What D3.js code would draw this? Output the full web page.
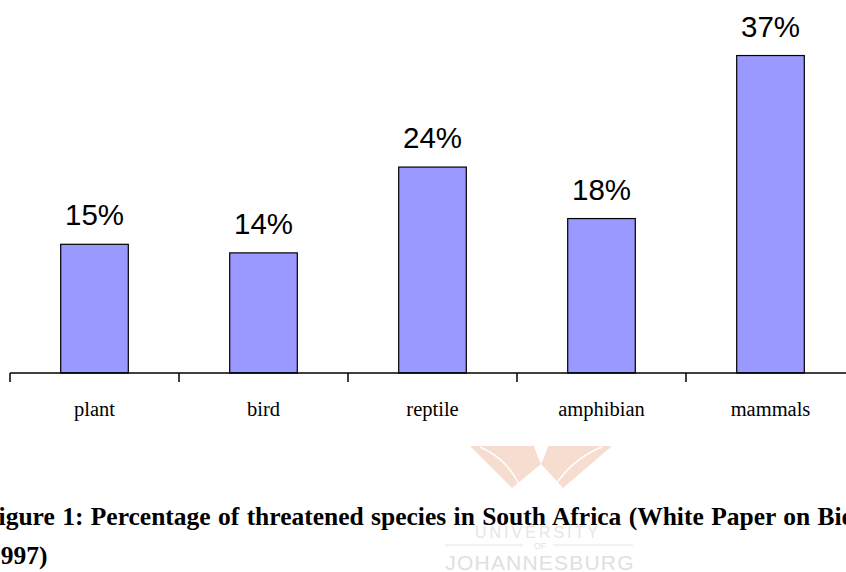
<!DOCTYPE html>
<html>
<head>
<meta charset="utf-8">
<script src="https://cdn.jsdelivr.net/npm/d3@7"></script>
<style>
  html, body { margin: 0; padding: 0; background: #fff; overflow: hidden; }
  svg { display: block; }
</style>
</head>
<body>
<script>
// Threatened species by group (percent)
const categories = ["plant", "bird", "reptile", "amphibian", "mammals"];
const values = [15, 14, 24, 18, 37];
const valueLabels = ["15%", "14%", "24%", "18%", "37%"];
const captionLines = [
  "Figure 1: Percentage of threatened species in South Africa (White Paper on Biodiversity,",
  "1997)"
];

const W = 846, H = 572;
const svg = d3.select("body").append("svg").attr("width", W).attr("height", H);

// University watermark (faint, behind the caption)
const wm = svg.append("g").attr("class", "watermark");
wm.append("path")
  .attr("d", "M470,446 L534,446 Q537,456 541,464 L512,488 Z M548,446 L612,446 L563,488 L541,464 Q545,456 548,446 Z")
  .attr("fill", "#f7ddcf");
wm.append("path")
  .attr("d", "M480,447 Q506,458 519,484 M602,447 Q574,458 556,484")
  .attr("fill", "none").attr("stroke", "#fff").attr("stroke-width", 1.5);
wm.append("text").attr("x", 538).attr("y", 538).attr("text-anchor", "middle")
  .attr("font-family", "Liberation Sans, Arial, sans-serif").attr("font-size", 16)
  .attr("letter-spacing", 3).attr("fill", "#e6e6e6").text("UNIVERSITY");
wm.append("text").attr("x", 540).attr("y", 549).attr("text-anchor", "middle")
  .attr("font-family", "Liberation Sans, Arial, sans-serif").attr("font-size", 9)
  .attr("fill", "#e2e2e2").text("OF");
wm.append("line").attr("x1", 445).attr("x2", 523).attr("y1", 545).attr("y2", 545)
  .attr("stroke", "#e6e6e6").attr("stroke-width", 1);
wm.append("line").attr("x1", 553).attr("x2", 633).attr("y1", 545).attr("y2", 545)
  .attr("stroke", "#e6e6e6").attr("stroke-width", 1);
wm.append("text").attr("x", 540).attr("y", 570).attr("text-anchor", "middle")
  .attr("font-family", "Liberation Sans, Arial, sans-serif").attr("font-size", 21)
  .attr("letter-spacing", 1.2)
  .attr("fill", "#e0e0e0").text("JOHANNESBURG");

// Scales
const axisY = 373;
const step = 169;
const x0 = 10;
const xBand = d3.scaleBand().domain(categories).range([x0, x0 + step * categories.length]).padding(0);
const xBar = d3.scaleBand().domain(categories).range([x0, x0 + step * categories.length])
  .paddingInner(0.6).paddingOuter(0.3);
const y = d3.scaleLinear().domain([0, 40]).range([axisY, axisY - 343.2]);

// Bars
svg.append("g").selectAll("rect").data(categories).join("rect")
  .attr("x", d => xBar(d))
  .attr("y", (d, i) => y(values[i]))
  .attr("width", xBar.bandwidth())
  .attr("height", (d, i) => y(0) - y(values[i]))
  .attr("fill", "#9999ff")
  .attr("stroke", "#000")
  .attr("stroke-width", 1.2);

// Value labels
svg.append("g").selectAll("text").data(categories).join("text")
  .attr("x", d => xBar(d) + xBar.bandwidth() / 2)
  .attr("y", (d, i) => y(values[i]) - 19)
  .attr("text-anchor", "middle")
  .attr("font-family", "Liberation Sans, Arial, sans-serif")
  .attr("font-size", 29.5)
  .attr("fill", "#000")
  .text((d, i) => valueLabels[i]);

// Category axis with ticks at band boundaries
const axis = svg.append("g");
axis.append("line")
  .attr("x1", x0).attr("x2", W + 10)
  .attr("y1", axisY).attr("y2", axisY)
  .attr("stroke", "#000").attr("stroke-width", 1.5);
const tickXs = categories.map(c => xBand(c)).concat([xBand.range()[1]]);
axis.selectAll(".tick").data(tickXs).join("line")
  .attr("x1", d => d).attr("x2", d => d)
  .attr("y1", axisY).attr("y2", axisY + 9)
  .attr("stroke", "#000").attr("stroke-width", 1.5);
axis.selectAll(".cat").data(categories).join("text")
  .attr("x", d => xBand(d) + xBand.bandwidth() / 2)
  .attr("y", 416)
  .attr("text-anchor", "middle")
  .attr("font-family", "Liberation Serif, 'Times New Roman', serif")
  .attr("font-size", 20.5)
  .attr("fill", "#000")
  .text(d => d);

// Caption (justified paragraph, wrapped onto two lines)
svg.append("g").selectAll("text").data(captionLines).join("text")
  .attr("x", (d, i) => i === 0 ? -17 : -12)
  .attr("y", (d, i) => i === 0 ? 525 : 564)
  .attr("font-family", "Liberation Serif, 'Times New Roman', serif")
  .attr("font-weight", "bold")
  .attr("font-size", 25.5)
  .attr("word-spacing", (d, i) => i === 0 ? 1 : 0)
  .attr("fill", "#000")
  .text(d => d);
</script>
</body>
</html>
